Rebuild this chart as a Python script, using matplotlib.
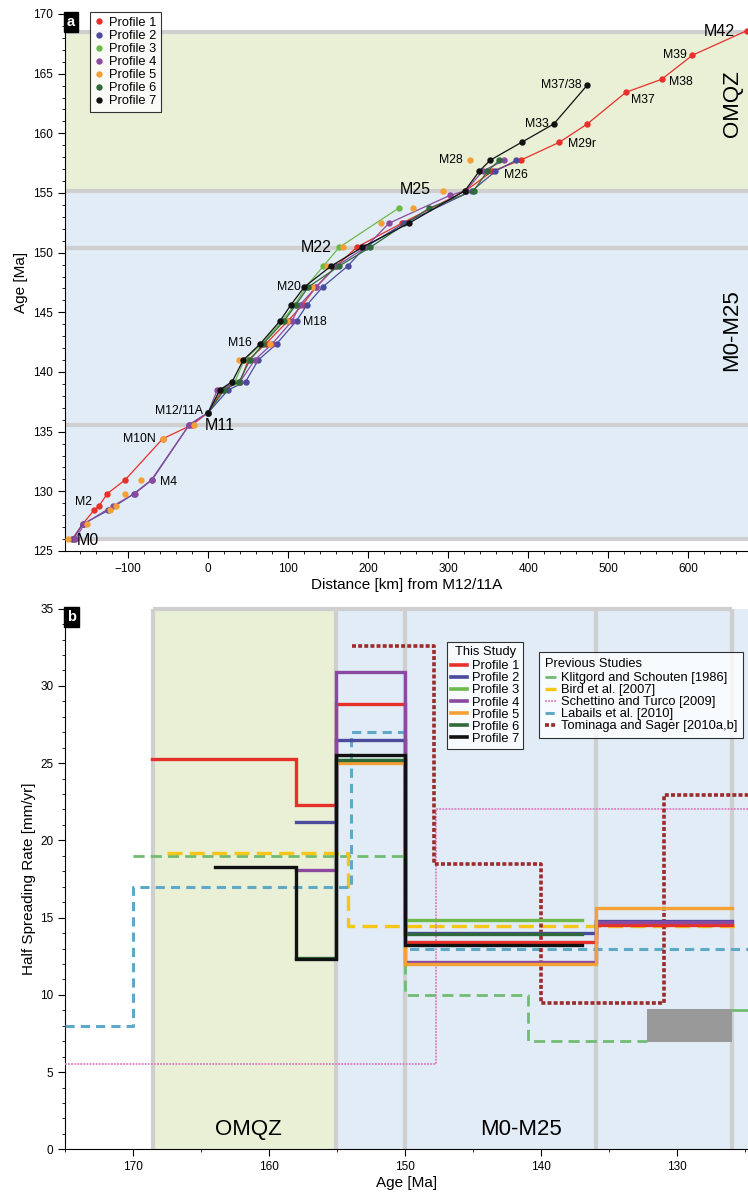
import numpy as np
import matplotlib.pyplot as plt
from matplotlib.lines import Line2D
from matplotlib.patches import Rectangle

plt.rcParams['font.family'] = ['Liberation Sans', 'DejaVu Sans']

# ---------------- panel a: anomaly picks along each profile ----------------
p1_km = [-170, -157, -142.9, -136.2, -126.2, -103.7, -57, -20, 0, 18, 40, 50, 72, 100, 118,
         134.6, 160, 185.5, 242, 322, 355, 390.5, 438.8, 473.8, 522, 566.7, 605, 673]
p1_age = [126.0, 127.26, 128.4, 128.8, 129.8, 130.97, 134.4, 135.58, 136.6, 138.5, 139.2, 141.0, 142.36, 144.3, 145.63,
          147.12, 148.87, 150.45, 152.47, 155.2, 156.83, 157.75, 159.25, 160.79, 163.44, 164.53, 166.54, 168.6]

p2_km = [-168.7, -157, -125, -92.9, -70.8, -23.7, 0, 25, 46.8, 62.5, 85.5, 110.5, 123.4, 143,
         174.2, 196, 245, 330, 359, 385]
p2_age = [126.0, 127.26, 128.4, 129.8, 130.97, 135.58, 136.6, 138.5, 139.2, 141.0, 142.36, 144.3, 145.63, 147.12,
          148.87, 150.45, 152.47, 155.2, 156.83, 157.75]

p3_km = [0, 15, 33.4, 45, 67, 92.5, 108, 122, 143.8, 163.8, 238]
p3_age = [136.6, 138.5, 139.2, 141.0, 142.36, 144.3, 145.63, 147.12, 148.87, 150.45, 153.73]

p4_km = [-166, -155, -118.7, -92, -70, -23.7, 0, 11.3, 40, 58, 80, 105, 114.6, 135, 160,
         196.7, 226, 302, 322, 343, 370]
p4_age = [126.0, 127.26, 128.8, 129.8, 130.97, 135.58, 136.6, 138.5, 139.2, 141.0, 142.36, 144.3, 145.63, 147.12, 148.87,
          150.45, 152.47, 154.8, 155.2, 156.83, 157.75]

p5_km = [-175, -152, -123, -115.4, -104.5, -84.5, -57, -17.5, 38.4, 77, 98.8, 130, 148.8, 168.8,
         215.5, 255.4, 293.8, 327.5]
p5_age = [126.0, 127.26, 128.4, 128.8, 129.8, 130.97, 134.4, 135.58, 141.0, 142.36, 144.3, 147.12, 148.87, 150.45,
          152.47, 153.73, 155.2, 157.75]

p6_km = [0, 20, 38.8, 52, 68.8, 95, 109.6, 125, 163.4, 202.5, 276, 332, 349, 364]
p6_age = [136.6, 138.5, 139.2, 141.0, 142.36, 144.3, 145.63, 147.12, 148.87, 150.45, 153.73, 155.2, 156.83, 157.75]

p7_km = [0, 14.6, 30, 43.8, 65, 90, 103.4, 120, 153.4, 192.5, 251, 320.9, 338.8, 352.5, 391.7, 432, 473.8]
p7_age = [136.6, 138.5, 139.2, 141.0, 142.36, 144.3, 145.63, 147.12, 148.87, 150.45, 152.47, 155.2, 156.83, 157.75,
          159.25, 160.79, 164.05]

profile_names = ['Profile 1', 'Profile 2', 'Profile 3', 'Profile 4', 'Profile 5', 'Profile 6', 'Profile 7']
profile_colors = ['#e8302a', '#4b4a9c', '#6cb94a', '#8b4a9f', '#f5a035', '#2f6a3b', '#111111']

# anomaly labels: text, km, age, alignment, large
anom_text = ['M0', 'M2', 'M4', 'M10N', 'M11', 'M12/11A', 'M16', 'M18', 'M20', 'M22', 'M25', 'M26',
             'M28', 'M29r', 'M33', 'M37', 'M37/38', 'M38', 'M39', 'M42']
anom_km = [-164, -145, -60, -66, -4, -7, 55, 118, 116, 154, 278, 370, 318, 450, 425, 528, 467, 576, 598, 658]
anom_age = [125.85, 129.1, 130.8, 134.4, 135.5, 136.7, 142.4, 144.2, 147.1, 150.45, 155.3, 156.5,
            157.8, 159.1, 160.8, 162.8, 164.05, 164.3, 166.6, 168.55]
anom_ha = ['left', 'right', 'left', 'right', 'left', 'right', 'right', 'left', 'right', 'right', 'right',
           'left', 'right', 'left', 'right', 'left', 'right', 'left', 'right', 'right']
anom_big = ['M0', 'M11', 'M22', 'M25', 'M42']

# chron boundaries used as zone edges (Ma)
bound_a = [126.0, 135.6, 150.4, 155.2, 168.5]
bound_b = [126.0, 136.0, 150.0, 155.1, 168.5]

# ---------------- panel b: half spreading rates ----------------
# each series: interval edges (Ma, old -> young) and rate per interval (mm/yr)
prof_edges = [
    [168.6, 158.0, 155.1, 150.0, 136.0, 126.0],
    [158.0, 155.1, 150.0, 136.0, 126.0],
    [155.1, 150.0, 137.0],
    [158.0, 155.1, 150.0, 136.0, 126.0],
    [155.1, 150.0, 136.0, 126.0],
    [158.0, 155.1, 150.0, 137.0],
    [164.0, 158.0, 155.1, 150.0, 137.0],
]
prof_rates = [
    [25.3, 22.3, 28.8, 13.45, 14.5],
    [21.2, 26.5, 14.02, 14.8],
    [25.2, 14.83],
    [18.1, 30.9, 12.12, 14.7],
    [25.0, 12.0, 15.6],
    [12.4, 25.2, 13.95],
    [18.3, 12.3, 25.5, 13.25],
]

prev_names = ['Klitgord and Schouten [1986]', 'Bird et al. [2007]', 'Schettino and Turco [2009]',
              'Labails et al. [2010]', 'Tominaga and Sager [2010a,b]']
prev_colors = ['#72bb72', '#f5c518', '#e07cc0', '#5ea8c8', '#9c2b2b']
prev_edges = [
    [170.0, 150.0, 141.0, 132.2],
    [167.5, 154.2, 125.3],
    [175.0, 147.7, 124.8],
    [175.0, 170.0, 154.0, 150.0, 124.8],
    [153.9, 147.9, 140.0, 131.0, 124.8],
]
prev_rates = [
    [19.0, 10.0, 7.0],
    [19.2, 14.45],
    [5.5, 22.0],
    [8.0, 17.0, 27.0, 13.0],
    [32.6, 18.45, 9.5, 22.95],
]
# Klitgord and Schouten range block and young-end value
ks_box_age = [132.2, 126.0]
ks_box_rate = [6.95, 9.1]
ks_tail_age = [126.0, 124.8]
ks_tail_rate = 9.05

green_bg = '#e9f0d6'
blue_bg = '#e1ecf6'
grey_line = '#cfcfcf'


def steps(edges, vals):
    xs, ys = [], []
    for i, v in enumerate(vals):
        xs += [edges[i], edges[i + 1]]
        ys += [v, v]
    return xs, ys


def panel_tag(ax, letter):
    ax.text(0.003, 0.998, letter, transform=ax.transAxes, ha='left', va='top', color='white',
            fontsize=10.5, fontweight='bold',
            bbox=dict(boxstyle='square,pad=0.22', fc='black', ec='black'))


fig = plt.figure(figsize=(7.48, 11.96), dpi=100)

# ======================= panel a =======================
ax1 = fig.add_axes([65 / 748, 1 - 551 / 1196, 683 / 748, 537 / 1196])
ax1.set_xlim(-179, 674.6)
ax1.set_ylim(125, 170)
ax1.axhspan(bound_a[0], bound_a[3], color=blue_bg, lw=0, zorder=0)
ax1.axhspan(bound_a[3], bound_a[4], color=green_bg, lw=0, zorder=0)
for b in bound_a:
    ax1.axhline(b, color=grey_line, lw=3, zorder=1)

all_km = [p1_km, p2_km, p3_km, p4_km, p5_km, p6_km, p7_km]
all_age = [p1_age, p2_age, p3_age, p4_age, p5_age, p6_age, p7_age]
for i in range(7):
    # profile 5 is shown as picks only
    ls = 'none' if i == 4 else '-'
    ax1.plot(all_km[i], all_age[i], ls=ls, color=profile_colors[i], lw=0.9,
             marker='o', ms=4.6, mec='none', zorder=3 + (i == 6))

for t, x, y, ha in zip(anom_text, anom_km, anom_age, anom_ha):
    fs = 11.5 if t in anom_big else 8.8
    ax1.text(x, y, t, ha=ha, va='center', fontsize=fs, zorder=6)

ax1.text(0.992, (162.5 - 125) / 45, 'OMQZ', transform=ax1.transAxes, rotation=90,
         ha='right', va='center', fontsize=16)
ax1.text(0.992, (143.5 - 125) / 45, 'M0-M25', transform=ax1.transAxes, rotation=90,
         ha='right', va='center', fontsize=16)

ax1.set_xticks(np.arange(-100, 601, 100))
ax1.set_xticks(np.arange(-160, 661, 20), minor=True)
ax1.set_yticks(np.arange(125, 171, 5))
ax1.set_yticks(np.arange(125, 171, 1), minor=True)
ax1.tick_params(which='major', length=5, labelsize=8.5, direction='out')
ax1.tick_params(which='minor', length=2.5, direction='out')
for s in ['top', 'right']:
    ax1.spines[s].set_visible(False)
ax1.set_xlabel('Distance [km] from M12/11A', fontsize=11, labelpad=2)
ax1.set_ylabel('Age [Ma]', fontsize=11, labelpad=4)
ax1.set_xticklabels(['\u2212100', '0', '100', '200', '300', '400', '500', '600'])
panel_tag(ax1, 'a')

handles_a = [Line2D([], [], ls='none', marker='o', ms=4.6, mec='none', color=c) for c in profile_colors]
leg_a = ax1.legend(handles_a, profile_names, loc='upper left', bbox_to_anchor=(0.037, 1.003),
                   fontsize=9.3, frameon=True, fancybox=False, edgecolor='black',
                   handlelength=0.6, handletextpad=0.5, labelspacing=0.08, borderpad=0.35,
                   borderaxespad=0)
leg_a.get_frame().set_linewidth(0.8)
leg_a.set_zorder(10)

# ======================= panel b =======================
ax2 = fig.add_axes([65 / 748, 1 - 1149.3 / 1196, 683 / 748, 540.6 / 1196])
ax2.set_xlim(175, 124.8)
ax2.set_ylim(0, 35)
ax2.axvspan(bound_b[4], bound_b[3], color=green_bg, lw=0, zorder=0)
ax2.axvspan(bound_b[3], 124.8, color=blue_bg, lw=0, zorder=0)
for b in bound_b:
    ax2.axvline(b, color=grey_line, lw=3, zorder=1)
ax2.hlines(35, bound_b[4], bound_b[0], color=grey_line, lw=3, zorder=1, clip_on=False)

prev_dash = [(4, 2.2), (4.5, 2.2), (1, 0.7), (3, 2), (1.1, 0.6)]
prev_lw = [2.0, 2.4, 1.3, 2.2, 2.6]
for i in range(5):
    xs, ys = steps(prev_edges[i], prev_rates[i])
    ax2.plot(xs, ys, color=prev_colors[i], lw=prev_lw[i], dashes=prev_dash[i], zorder=3)
ax2.add_patch(Rectangle((ks_box_age[1], ks_box_rate[0]), ks_box_age[0] - ks_box_age[1],
                        ks_box_rate[1] - ks_box_rate[0], color='#999999', lw=0, zorder=2))
ax2.plot(ks_tail_age, [ks_tail_rate, ks_tail_rate], color=prev_colors[0], lw=2.0, zorder=3)

for i in range(7):
    xs, ys = steps(prof_edges[i], prof_rates[i])
    ax2.plot(xs, ys, color=profile_colors[i], lw=2.4, zorder=4 + i * 0.1,
             solid_joinstyle='miter')

ax2.text(161.5, 0.6, 'OMQZ', ha='center', va='bottom', fontsize=16)
ax2.text(141.5, 0.6, 'M0-M25', ha='center', va='bottom', fontsize=16)

ax2.set_xticks(np.arange(170, 124, -10))
ax2.set_xticks(np.arange(175, 124, -5), minor=True)
ax2.set_yticks(np.arange(0, 36, 5))
ax2.set_yticks(np.arange(0, 36, 1), minor=True)
ax2.tick_params(which='major', length=5, labelsize=8.5, direction='out')
ax2.tick_params(which='minor', length=2.5, direction='out')
for s in ['top', 'right']:
    ax2.spines[s].set_visible(False)
ax2.set_xlabel('Age [Ma]', fontsize=11, labelpad=2)
ax2.set_ylabel('Half Spreading Rate [mm/yr]', fontsize=11, labelpad=3)
panel_tag(ax2, 'b')

handles_b1 = [Line2D([], [], color=c, lw=2.6) for c in profile_colors]
leg_b1 = ax2.legend(handles_b1, profile_names, title='This Study', loc='upper left',
                    bbox_to_anchor=((447.3 - 65) / 683, (1149.3 - 641.7) / 540.6),
                    fontsize=9.3, title_fontsize=9.3, frameon=True, fancybox=False, edgecolor='black',
                    handlelength=1.2, handletextpad=0.4, labelspacing=0.0, borderpad=0.3,
                    borderaxespad=0)
leg_b1.get_frame().set_linewidth(0.8)
leg_b1._legend_box.sep = 2
ax2.add_artist(leg_b1)

handles_b2 = [Line2D([], [], color=prev_colors[i], lw=prev_lw[i], dashes=prev_dash[i]) for i in range(5)]
leg_b2 = ax2.legend(handles_b2, prev_names, title='Previous Studies', loc='upper left',
                    bbox_to_anchor=((538.7 - 65) / 683, (1149.3 - 651.7) / 540.6),
                    fontsize=9.3, title_fontsize=9.3, frameon=True, fancybox=False, edgecolor='black',
                    handlelength=0.9, handletextpad=0.4, labelspacing=0.0, borderpad=0.45,
                    borderaxespad=0, alignment='left')
leg_b2.get_frame().set_linewidth(0.8)
leg_b2._legend_box.sep = 2

fig.savefig('out.png', dpi=100)
